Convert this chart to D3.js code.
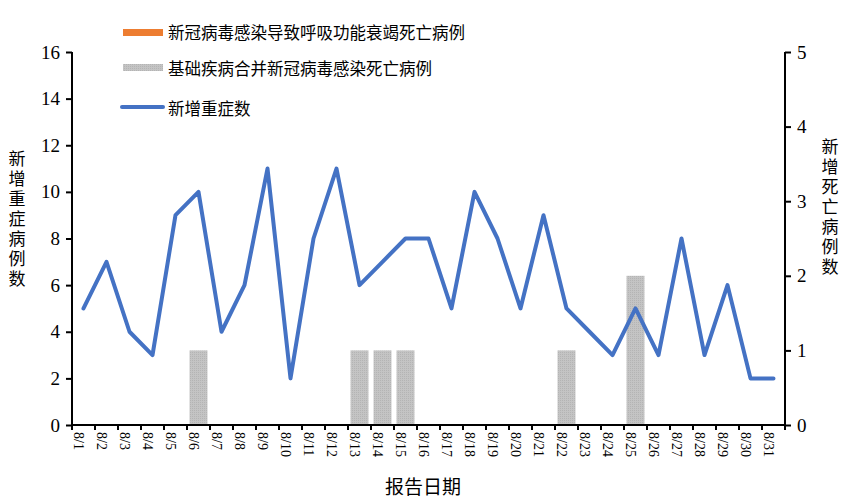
<!DOCTYPE html>
<html>
<head>
<meta charset="utf-8">
<script src="https://cdn.jsdelivr.net/npm/d3@7"></script>
<style>
  body { margin: 0; background: #fff; }
  svg { display: block; }
  text { fill: #000; }
</style>
</head>
<body>
<svg width="846" height="504"></svg>
<script>
// data
const dates = ['8/1','8/2','8/3','8/4','8/5','8/6','8/7','8/8','8/9','8/10','8/11','8/12','8/13','8/14','8/15','8/16',
  '8/17','8/18','8/19','8/20','8/21','8/22','8/23','8/24','8/25','8/26','8/27','8/28','8/29','8/30','8/31'];
const severe = [5,7,4,3,9,10,4,6,11,2,8,11,6,7,8,8,5,10,8,5,9,5,4,3,5,3,8,3,6,2,2];
const respDeaths = [0,0,0,0,0,0,0,0,0,0,0,0,0,0,0,0,0,0,0,0,0,0,0,0,0,0,0,0,0,0,0];
const comorbDeaths = [0,0,0,0,0,1,0,0,0,0,0,0,1,1,1,0,0,0,0,0,0,1,0,0,2,0,0,0,0,0,0];
const leftTicks = [0,2,4,6,8,10,12,14,16];
const rightTicks = [0,1,2,3,4,5];

const svg = d3.select('svg');
const margin = { top: 52, right: 61, bottom: 79, left: 72 };
const width = 846 - margin.left - margin.right,
      height = 504 - margin.top - margin.bottom;

const serif = '"Liberation Serif", "Times New Roman", serif';
const cjk = '"Noto Sans CJK SC", sans-serif';

const defs = svg.append('defs');
const pat = defs.append('pattern')
  .attr('id', 'dots')
  .attr('width', 2).attr('height', 2)
  .attr('patternUnits', 'userSpaceOnUse');
pat.append('rect').attr('width', 2).attr('height', 2).attr('fill', '#c4c4c4');
pat.append('rect').attr('width', 1).attr('height', 1).attr('fill', '#b4b4b4');

const x = d3.scaleBand().domain(dates).range([0, width]).paddingInner(0.22).paddingOuter(0.11);
const xLine = d => x(d) + x.bandwidth() / 2;
const yL = d3.scaleLinear().domain([0, 16]).range([height, 0]);
const yR = d3.scaleLinear().domain([0, 5]).range([height, 0]);

const g = svg.append('g').attr('transform', 'translate(' + margin.left + ',' + margin.top + ')');

// bars (death cases, right axis)
g.selectAll('.bar-resp')
  .data(dates.map((d, i) => ({ d: d, v: respDeaths[i] })))
  .enter().append('rect')
    .attr('x', d => x(d.d))
    .attr('width', x.bandwidth())
    .attr('y', d => yR(d.v))
    .attr('height', d => height - yR(d.v))
    .attr('fill', '#ed7d31');

g.selectAll('.bar-comorb')
  .data(dates.map((d, i) => ({ d: d, v: comorbDeaths[i] })))
  .enter().append('rect')
    .attr('x', d => x(d.d))
    .attr('width', x.bandwidth())
    .attr('y', d => yR(d.v))
    .attr('height', d => height - yR(d.v))
    .attr('fill', 'url(#dots)');

// line (severe cases, left axis)
const line = d3.line()
  .x((d, i) => xLine(dates[i]))
  .y(d => yL(d));

g.append('path')
  .datum(severe)
  .attr('d', line)
  .attr('fill', 'none')
  .attr('stroke', '#4472c4')
  .attr('stroke-width', 4)
  .attr('stroke-linejoin', 'round')
  .attr('stroke-linecap', 'round');

// axes
const leftAxis = g.append('g')
  .call(d3.axisLeft(yL).tickValues(leftTicks).tickSize(6).tickPadding(6));
const rightAxis = g.append('g')
  .attr('transform', 'translate(' + width + ',0)')
  .call(d3.axisRight(yR).tickValues(rightTicks).tickSize(6).tickPadding(6).tickFormat(d3.format('d')));

[leftAxis, rightAxis].forEach(a => {
  a.select('.domain').remove();
  a.selectAll('.tick line').attr('stroke', '#000').attr('stroke-width', 2);
  a.selectAll('.tick text').style('font-family', serif).style('font-size', '19px').attr('fill', '#000');
});
g.append('line').attr('x1', 0).attr('x2', 0).attr('y1', 0).attr('y2', height + 1)
  .attr('stroke', '#000').attr('stroke-width', 2);
g.append('line').attr('x1', width).attr('x2', width).attr('y1', 0).attr('y2', height + 1)
  .attr('stroke', '#000').attr('stroke-width', 2);

// x axis with ticks at category boundaries
const xAxis = g.append('g').attr('transform', 'translate(0,' + height + ')');
xAxis.append('line').attr('x1', -1).attr('x2', width + 1)
  .attr('stroke', '#000').attr('stroke-width', 2);
const step = x.step();
const x0 = x(dates[0]) - x.step() * x.paddingOuter();
xAxis.selectAll('.xtick')
  .data(d3.range(dates.length + 1))
  .enter().append('line')
    .attr('x1', i => x0 + i * step).attr('x2', i => x0 + i * step)
    .attr('y1', 0).attr('y2', 5)
    .attr('stroke', '#000').attr('stroke-width', 2);
xAxis.selectAll('.xlab')
  .data(dates)
  .enter().append('text')
    .attr('transform', d => 'translate(' + (xLine(d) - 5) + ',7) rotate(90)')
    .attr('text-anchor', 'start')
    .attr('dominant-baseline', 'central')
    .style('font-family', serif)
    .style('font-size', '14px')
    .text(d => d);

// axis titles
svg.append('text')
  .attr('x', 423).attr('y', 494)
  .attr('text-anchor', 'middle')
  .style('font-family', cjk).style('font-size', '19px')
  .attr('fill', '#333')
  .text('报告日期');

const vTitle = (txt, cx, top) => {
  svg.append('text')
    .attr('x', cx).attr('y', top)
    .style('writing-mode', 'vertical-rl')
    .style('letter-spacing', '3px')
    .style('font-family', cjk).style('font-size', '17px')
    .attr('fill', '#404040')
    .text(txt);
};
vTitle('新增重症病例数', 17, 150);
vTitle('新增死亡病例数', 830, 138);

// legend
const legend = svg.append('g').style('font-family', cjk).style('font-size', '16.5px');
legend.append('rect').attr('x', 123).attr('y', 29).attr('width', 40).attr('height', 7).attr('fill', '#ed7d31');
legend.append('text').attr('x', 168).attr('y', 32).attr('dominant-baseline', 'central').text('新冠病毒感染导致呼吸功能衰竭死亡病例');
legend.append('rect').attr('x', 123).attr('y', 64).attr('width', 40).attr('height', 7).attr('fill', 'url(#dots)');
legend.append('text').attr('x', 168).attr('y', 68).attr('dominant-baseline', 'central').text('基础疾病合并新冠病毒感染死亡病例');
legend.append('line').attr('x1', 122).attr('x2', 163).attr('y1', 107).attr('y2', 107)
  .attr('stroke', '#4472c4').attr('stroke-width', 4).attr('stroke-linecap', 'round');
legend.append('text').attr('x', 168).attr('y', 108).attr('dominant-baseline', 'central').text('新增重症数');
</script>
</body>
</html>
